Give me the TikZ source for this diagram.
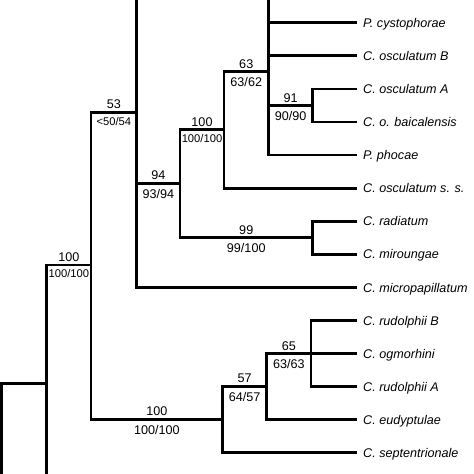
\documentclass[tikz,border=0pt]{standalone}
\usepackage{fontspec}
\setmainfont{Liberation Sans}
\tikzset{
  branch/.style={line width=2.8pt},
  taxon/.style={anchor=west, inner xsep=6pt, inner ysep=0pt, text height=12pt, text depth=3pt,
    font=\fontsize{12.6}{14}\selectfont\itshape},
  bsup/.style={above, inner sep=1.8pt, font=\fontsize{12.6}{14}\selectfont},
  bsub/.style={below, inner sep=4.3pt, font=\fontsize{12.6}{14}\selectfont},
  narrow/.style={inner sep=3.2pt, font=\fontsize{11.2}{13}\selectfont}
}
\begin{document}
\begin{tikzpicture}[x=1pt, y=-1pt]
		\useasboundingbox (0,0) rectangle (474,474);
		\fill[white] (0,0) rectangle (474,474);
		\clip (0,0) rectangle (474,474);
		
		% Taxa
		\node[taxon] (cyst)  at (357,22.7)  {P. cystophorae};
		\node[taxon] (oscB)  at (357,55.8)  {C. osculatum B};
		\node[taxon] (oscA)  at (357,88.9)  {C. osculatum A};
		\node[taxon] (baic)  at (357,121.9) {C. o. baicalensis};
		\node[taxon] (phoc)  at (357,155.0) {P. phocae};
		\node[taxon] (oscss) at (357,188.1) {C. osculatum s. s.};
		\node[taxon] (radi)  at (357,221.2) {C. radiatum};
		\node[taxon] (miro)  at (357,254.3) {C. miroungae};
		\node[taxon] (micro) at (357,287.5) {C. micropapillatum};
		\node[taxon] (rudB)  at (357,320.6) {C. rudolphii B};
		\node[taxon] (ogmo)  at (357,353.5) {C. ogmorhini};
		\node[taxon] (rudA)  at (357,386.6) {C. rudolphii A};
		\node[taxon] (eudy)  at (357,419.7) {C. eudyptulae};
		\node[taxon] (sept)  at (357,452.7) {C. septentrionale};
		
		% Internal nodes
		\coordinate (n63)   at (268.5,71.7);
		\coordinate (n63top) at (268.5,-10);
		\coordinate (n91)   at (312.7,105.4);
		\coordinate (n100u) at (224,129.5);
		\coordinate (n94)   at (180,183.3);
		\coordinate (n99)   at (312.5,237.7);
		\coordinate (n53)   at (136.7,112.3);
		\coordinate (n53top) at (136.7,-10);
		\coordinate (n100m) at (91,265);
		\coordinate (n100l) at (222.7,419.2);
		\coordinate (n57)   at (266.7,386.2);
		\coordinate (n65)   at (311,353.5);
		\coordinate (n47)   at (46.7,383.3);
		\coordinate (n47low) at (46.7,490);
		\coordinate (root)  at (1.5,490);
		
		% Upper clade
		\draw[branch] (n63) -- (n63top);
		\draw[branch] (n63) |- (cyst.west);
		\draw[branch] (n63) |- (oscB.west);
		\draw[branch] (n63) |- (n91) node[bsup,pos=.75] {91} node[bsub,pos=.75] {90/90};
		\draw[branch] (n63) |- (phoc.west);
		\draw[branch] (n91) |- (oscA.west);
		\draw[branch] (n91) |- (baic.west);
		\draw[branch] (n100u) |- (n63) node[bsup,pos=.75] {63} node[bsub,pos=.75] {63/62};
		\draw[branch] (n100u) |- (oscss.west);
		\draw[branch] (n94) |- (n100u) node[bsup,pos=.75] {100} node[bsub,pos=.75,narrow] {100/100};
		\draw[branch] (n94) |- (n99) node[bsup,pos=.75] {99} node[bsub,pos=.75] {99/100};
		\draw[branch] (n99) |- (radi.west);
		\draw[branch] (n99) |- (miro.west);
		\draw[branch] (n53) -- (n53top);
		\draw[branch] (n53) |- (n94) node[bsup,pos=.75] {94} node[bsub,pos=.75] {93/94};
		\draw[branch] (n53) |- (micro.west);
		
		% Lower clade
		\draw[branch] (n100l) |- (n57) node[bsup,pos=.75] {57} node[bsub,pos=.75] {64/57};
		\draw[branch] (n100l) |- (sept.west);
		\draw[branch] (n57) |- (n65) node[bsup,pos=.75] {65} node[bsub,pos=.75] {63/63};
		\draw[branch] (n57) |- (eudy.west);
		\draw[branch] (n65) |- (rudB.west);
		\draw[branch] (n65) -- (ogmo.west);
		\draw[branch] (n65) |- (rudA.west);
		
		% Base
		\draw[branch] (n100m) |- (n53) node[bsup,pos=.75] {53} node[bsub,pos=.75,narrow] {<50/54};
		\draw[branch] (n100m) |- (n100l) node[bsup,pos=.75] {100} node[bsub,pos=.75] {100/100};
		\draw[branch] (n47) |- (n100m) node[bsup,pos=.75] {100} node[bsub,pos=.75,narrow] {100/100};
		\draw[branch] (n47) -- (n47low);
		\draw[branch] (root) |- (n47);
	\end{tikzpicture}
\end{document}
